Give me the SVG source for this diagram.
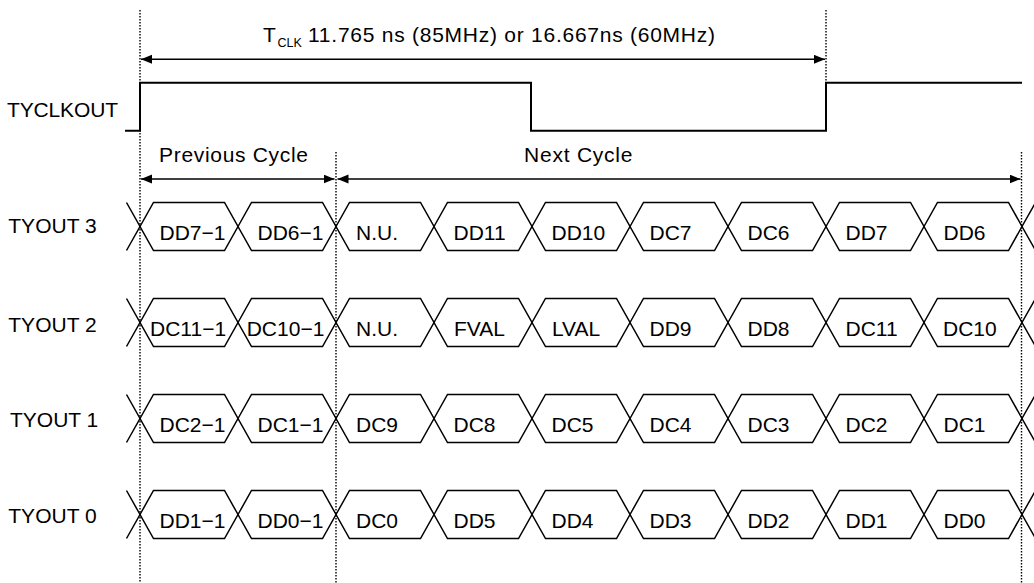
<svg xmlns="http://www.w3.org/2000/svg" xmlns:xlink="http://www.w3.org/1999/xlink" width="1034" height="583" viewBox="0 0 1034 583">
<style>
text{font-family:"Liberation Sans",Arial,sans-serif;font-size:21px;fill:#000;}
.sub{font-size:12.5px;}
.hex{fill:none;stroke:#000;stroke-width:1.5;stroke-linejoin:miter;}
.stub{fill:none;stroke:#000;stroke-width:1.5;}
.clk{fill:none;stroke:#000;stroke-width:2;}
.dot{fill:none;stroke:#000;stroke-width:1.4;stroke-dasharray:1.5 1.5;}
.arr{fill:none;stroke:#000;stroke-width:1.6;marker-start:url(#ah);marker-end:url(#ah);}
</style>
<defs>
<marker id="ah" markerUnits="userSpaceOnUse" markerWidth="12" markerHeight="10" refX="11" refY="4.5" orient="auto-start-reverse"><path d="M0,0 L11,4.5 L0,9 Z" fill="#000"/></marker>
<polygon id="hex" class="hex" points="0,0 13.5,-24 84.5,-24 98,0 84.5,24 13.5,24"/>
</defs>
<rect width="1034" height="583" fill="#fff"/>

<g id="guides">
<line class="dot" x1="140" y1="10" x2="140" y2="583"/>
<line class="dot" x1="826" y1="10" x2="826" y2="82"/>
<line class="dot" x1="336" y1="152" x2="336" y2="583"/>
<line class="dot" x1="1021.5" y1="152" x2="1021.5" y2="583"/>
</g>

<g id="connectors">
<line class="arr" x1="141" y1="59.3" x2="825" y2="59.3"/>
<line class="arr" x1="141" y1="179" x2="334.5" y2="179"/>
<line class="arr" x1="337.5" y1="179" x2="1020.5" y2="179"/>
</g>

<g id="tclk-label">
<text x="263" y="42">T</text>
<text class="sub" x="277.5" y="46.5">CLK</text>
<text x="308" y="42" textLength="407" lengthAdjust="spacing">11.765 ns (85MHz) or 16.667ns (60MHz)</text>
</g>
<g id="prev-label"><text x="159" y="161.7" textLength="149" lengthAdjust="spacing">Previous Cycle</text></g>
<g id="next-label"><text x="524" y="161.7" textLength="108.5" lengthAdjust="spacing">Next Cycle</text></g>

<g id="tyclkout">
<text x="7" y="116.7" textLength="111" lengthAdjust="spacing">TYCLKOUT</text>
<path class="clk" d="M125,130.7 H140 V82.7 H531 V130.7 H826 V82.7 H1022"/>
</g>

<g id="label-tyout3"><text x="8.3" y="233">TYOUT 3</text></g>
<g id="label-tyout2"><text x="8.3" y="331.5">TYOUT 2</text></g>
<g id="label-tyout1"><text x="10" y="427">TYOUT 1</text></g>
<g id="label-tyout0"><text x="8.3" y="523">TYOUT 0</text></g>

<g id="row-tyout3" transform="translate(0,226.5)">
<path class="stub" d="M126.5,-24 L140,0 L126.5,24 M1035.5,-24 L1022,0 L1035.5,24"/>
<g id="t3-dd7-1" transform="translate(140,0)"><use xlink:href="#hex"/><text x="19.5" y="13">DD7−1</text></g>
<g id="t3-dd6-1" transform="translate(238,0)"><use xlink:href="#hex"/><text x="19.5" y="13">DD6−1</text></g>
<g id="t3-nu" transform="translate(336,0)"><use xlink:href="#hex"/><text x="20" y="13">N.U.</text></g>
<g id="t3-dd11" transform="translate(434,0)"><use xlink:href="#hex"/><text x="19.5" y="13">DD11</text></g>
<g id="t3-dd10" transform="translate(532,0)"><use xlink:href="#hex"/><text x="19.5" y="13">DD10</text></g>
<g id="t3-dc7" transform="translate(630,0)"><use xlink:href="#hex"/><text x="19.5" y="13">DC7</text></g>
<g id="t3-dc6" transform="translate(728,0)"><use xlink:href="#hex"/><text x="19.5" y="13">DC6</text></g>
<g id="t3-dd7" transform="translate(826,0)"><use xlink:href="#hex"/><text x="19.5" y="13">DD7</text></g>
<g id="t3-dd6" transform="translate(924,0)"><use xlink:href="#hex"/><text x="19.5" y="13">DD6</text></g>
</g>

<g id="row-tyout2" transform="translate(0,322.5)">
<path class="stub" d="M126.5,-24 L140,0 L126.5,24 M1035.5,-24 L1022,0 L1035.5,24"/>
<g id="t2-dc11-1" transform="translate(140,0)"><use xlink:href="#hex"/><text x="10" y="13">DC11−1</text></g>
<g id="t2-dc10-1" transform="translate(238,0)"><use xlink:href="#hex"/><text x="8.7" y="13">DC10−1</text></g>
<g id="t2-nu" transform="translate(336,0)"><use xlink:href="#hex"/><text x="20" y="13">N.U.</text></g>
<g id="t2-fval" transform="translate(434,0)"><use xlink:href="#hex"/><text x="20" y="13">FVAL</text></g>
<g id="t2-lval" transform="translate(532,0)"><use xlink:href="#hex"/><text x="20" y="13">LVAL</text></g>
<g id="t2-dd9" transform="translate(630,0)"><use xlink:href="#hex"/><text x="19.5" y="13">DD9</text></g>
<g id="t2-dd8" transform="translate(728,0)"><use xlink:href="#hex"/><text x="19.5" y="13">DD8</text></g>
<g id="t2-dc11" transform="translate(826,0)"><use xlink:href="#hex"/><text x="19.5" y="13">DC11</text></g>
<g id="t2-dc10" transform="translate(924,0)"><use xlink:href="#hex"/><text x="19" y="13">DC10</text></g>
</g>

<g id="row-tyout1" transform="translate(0,418.5)">
<path class="stub" d="M126.5,-24 L140,0 L126.5,24 M1035.5,-24 L1022,0 L1035.5,24"/>
<g id="t1-dc2-1" transform="translate(140,0)"><use xlink:href="#hex"/><text x="19.5" y="13">DC2−1</text></g>
<g id="t1-dc1-1" transform="translate(238,0)"><use xlink:href="#hex"/><text x="19.5" y="13">DC1−1</text></g>
<g id="t1-dc9" transform="translate(336,0)"><use xlink:href="#hex"/><text x="20" y="13">DC9</text></g>
<g id="t1-dc8" transform="translate(434,0)"><use xlink:href="#hex"/><text x="19.5" y="13">DC8</text></g>
<g id="t1-dc5" transform="translate(532,0)"><use xlink:href="#hex"/><text x="19.5" y="13">DC5</text></g>
<g id="t1-dc4" transform="translate(630,0)"><use xlink:href="#hex"/><text x="19.5" y="13">DC4</text></g>
<g id="t1-dc3" transform="translate(728,0)"><use xlink:href="#hex"/><text x="19.5" y="13">DC3</text></g>
<g id="t1-dc2" transform="translate(826,0)"><use xlink:href="#hex"/><text x="19.5" y="13">DC2</text></g>
<g id="t1-dc1" transform="translate(924,0)"><use xlink:href="#hex"/><text x="19.5" y="13">DC1</text></g>
</g>

<g id="row-tyout0" transform="translate(0,514.5)">
<path class="stub" d="M126.5,-24 L140,0 L126.5,24 M1035.5,-24 L1022,0 L1035.5,24"/>
<g id="t0-dd1-1" transform="translate(140,0)"><use xlink:href="#hex"/><text x="19.5" y="13">DD1−1</text></g>
<g id="t0-dd0-1" transform="translate(238,0)"><use xlink:href="#hex"/><text x="19.5" y="13">DD0−1</text></g>
<g id="t0-dc0" transform="translate(336,0)"><use xlink:href="#hex"/><text x="20" y="13">DC0</text></g>
<g id="t0-dd5" transform="translate(434,0)"><use xlink:href="#hex"/><text x="19.5" y="13">DD5</text></g>
<g id="t0-dd4" transform="translate(532,0)"><use xlink:href="#hex"/><text x="19.5" y="13">DD4</text></g>
<g id="t0-dd3" transform="translate(630,0)"><use xlink:href="#hex"/><text x="19.5" y="13">DD3</text></g>
<g id="t0-dd2" transform="translate(728,0)"><use xlink:href="#hex"/><text x="19.5" y="13">DD2</text></g>
<g id="t0-dd1" transform="translate(826,0)"><use xlink:href="#hex"/><text x="19.5" y="13">DD1</text></g>
<g id="t0-dd0" transform="translate(924,0)"><use xlink:href="#hex"/><text x="19.5" y="13">DD0</text></g>
</g>
</svg>
